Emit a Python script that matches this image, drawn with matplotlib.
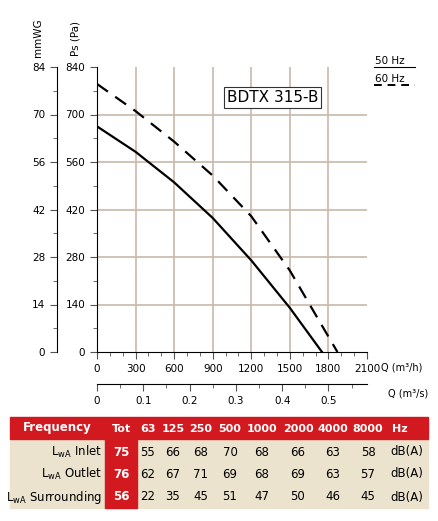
import matplotlib
matplotlib.use("Agg")
import matplotlib.pyplot as plt
import numpy as np
from matplotlib.patches import Rectangle

q50 = [0, 300, 600, 900, 1200, 1500, 1750]
p50 = [665, 590, 500, 395, 270, 130, 0]
q60 = [0, 300, 600, 900, 1200, 1500, 1700, 1870]
p60 = [790, 710, 620, 520, 400, 240, 110, 0]
freqs = ["Tot", "63", "125", "250", "500", "1000", "2000", "4000", "8000", "Hz"]
rows = ["Inlet", "Outlet", "Surrounding"]
tot = [75, 76, 56]
vals = [[55, 66, 68, 70, 68, 66, 63, 58],
        [62, 67, 71, 69, 68, 69, 63, 57],
        [22, 35, 45, 51, 47, 50, 46, 45]]

W, H = 439, 521
fig = plt.figure(figsize=(W/100, H/100), dpi=100)
def fx(x): return x / W
def fy(y): return 1 - y / H

ax = fig.add_axes([fx(97), fy(352), fx(367) - fx(97), fy(67) - fy(352)])
ax.set_xlim(0, 2100); ax.set_ylim(0, 840)
grid = "#c8b9a8"
for x in range(300, 2100, 300):
    ax.axvline(x, color=grid, lw=1.2, zorder=0)
for y in range(140, 840, 140):
    ax.axhline(y, color=grid, lw=1.2, zorder=0)
ax.plot(q50, p50, color="black", lw=1.6)
ax.plot(q60, p60, color="black", lw=1.6, dashes=(6, 4))
for s in ["top", "right"]:
    ax.spines[s].set_visible(False)
ax.set_xticks(range(0, 2101, 300))
ax.set_xticks(range(0, 2101, 100), minor=True)
ax.set_yticks(range(0, 841, 140))
ax.set_yticks(range(0, 841, 70), minor=True)
ax.tick_params(labelsize=7.5, length=5, color="#555")
ax.tick_params(which="minor", length=3, color="#555")
ax.text(1010, 750, "BDTX 315-B", fontsize=11, ha="left", va="center",
        bbox=dict(boxstyle="square,pad=0.2", fc="white", ec="#333", lw=0.8))
fig.text(fx(381), fy(367), "Q (m³/h)", fontsize=7, va="center")

ax2 = fig.add_axes([fx(57), fy(352), 0.001, fy(67) - fy(352)])
ax2.set_ylim(0, 84); ax2.set_xticks([])
for s in ["top", "right", "bottom"]:
    ax2.spines[s].set_visible(False)
ax2.set_yticks(range(0, 85, 14))
ax2.set_yticks(range(0, 85, 7), minor=True)
ax2.tick_params(labelsize=7.5, length=5, color="#555")
ax2.tick_params(which="minor", length=3, color="#555")
ax2.patch.set_visible(False)

ax3 = fig.add_axes([fx(97), fy(384), fx(367) - fx(97), 0.001])
ax3.set_xlim(0, 2100/3600); ax3.set_yticks([])
for s in ["top", "right", "left"]:
    ax3.spines[s].set_visible(False)
ax3.set_xticks([0, 0.1, 0.2, 0.3, 0.4, 0.5])
ax3.set_xticklabels(["0", "0.1", "0.2", "0.3", "0.4", "0.5"])
ax3.set_xticks(np.arange(0, 0.58, 0.05), minor=True)
ax3.tick_params(labelsize=7.5, length=5, color="#555")
ax3.tick_params(which="minor", length=3, color="#555")
ax3.patch.set_visible(False)
fig.text(fx(388), fy(394), "Q (m³/s)", fontsize=7, va="center")

fig.text(fx(38), fy(38), "mmWG", rotation=90, fontsize=7.5, ha="center", va="center")
fig.text(fx(76), fy(38), "Ps (Pa)", rotation=90, fontsize=7.5, ha="center", va="center")

fig.text(fx(375), fy(66), "50 Hz", fontsize=7.5, va="bottom")
fig.add_artist(plt.Line2D([fx(374), fx(415)], [fy(67), fy(67)], color="black", lw=0.8))
fig.text(fx(375), fy(84), "60 Hz", fontsize=7.5, va="bottom")
fig.add_artist(plt.Line2D([fx(374), fx(415)], [fy(85), fy(85)], color="black", lw=1.4, dashes=(4, 3)))

red = "#d2191f"; beige = "#ece3cf"
fig.add_artist(Rectangle((fx(10), fy(508)), fx(428) - fx(10), fy(439) - fy(508), color=beige, transform=fig.transFigure))
fig.add_artist(Rectangle((fx(10), fy(439)), fx(428) - fx(10), fy(417) - fy(439), color=red, transform=fig.transFigure))
fig.add_artist(Rectangle((fx(105), fy(508)), fx(137) - fx(105), fy(439) - fy(508), color=red, transform=fig.transFigure))
colx = [121, 148, 173, 201, 230, 262, 298, 333, 368, 392]
fig.text(fx(57), fy(428), "Frequency", color="white", fontsize=8.5, fontweight="bold", ha="center", va="center")
for x, f in zip(colx, freqs):
    fig.text(fx(x), fy(429), f, color="white", fontsize=8, fontweight="bold",
             ha="left" if f == "Hz" else "center", va="center")
rowy = [452, 474, 497]
for r, name in enumerate(rows):
    y = fy(rowy[r])
    fig.text(fx(102), y, r"L$_{\mathrm{wA}}$ " + name, fontsize=8.5, ha="right", va="center")
    fig.text(fx(colx[0]), y, str(tot[r]), color="white", fontsize=8.5, fontweight="bold", ha="center", va="center")
    for c, v in enumerate(vals[r]):
        fig.text(fx(colx[c + 1]), y, str(v), fontsize=8.5, ha="center", va="center")
    fig.text(fx(390), y, "dB(A)", fontsize=8.5, ha="left", va="center")

fig.savefig("out.png", dpi=100)
